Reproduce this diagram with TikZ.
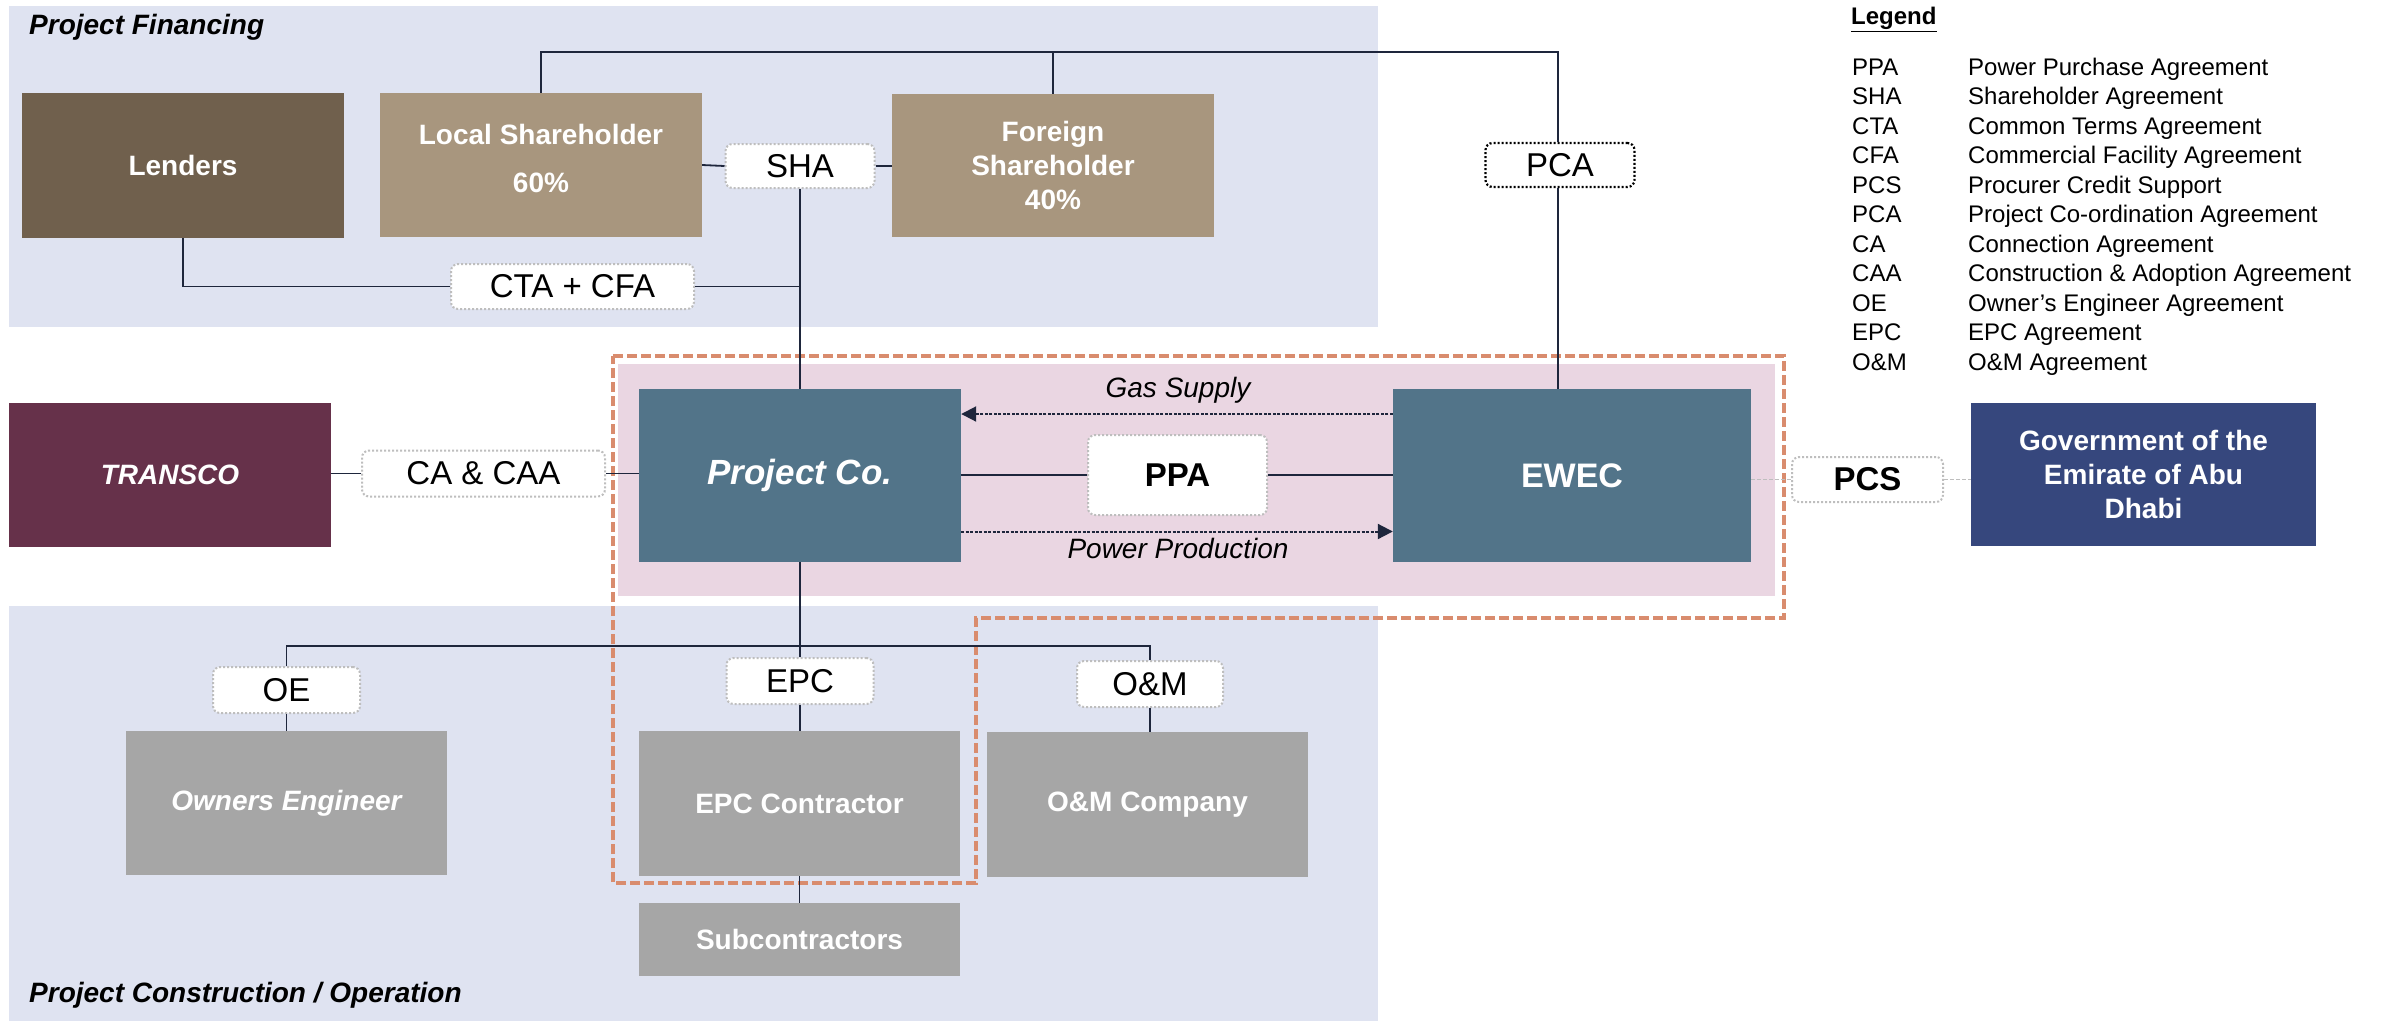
\documentclass[tikz,border=0pt]{standalone}
\usepackage{fontspec}
\setmainfont{Liberation Sans}
\usetikzlibrary{arrows.meta}
\newcommand\setfs[2]{\fontsize{#1}{#2}\selectfont}
\definecolor{bandc}{RGB}{223,227,241}
\definecolor{pinkc}{RGB}{234,214,226}
\definecolor{lendc}{RGB}{112,96,77}
\definecolor{tanc}{RGB}{168,150,126}
\definecolor{tealc}{RGB}{82,116,137}
\definecolor{transc}{RGB}{102,49,74}
\definecolor{govc}{RGB}{54,71,125}
\definecolor{grayc}{RGB}{166,166,166}
\definecolor{orangec}{RGB}{217,140,110}
\definecolor{linec}{RGB}{30,38,60}
\definecolor{dotc}{RGB}{190,190,190}
\begin{document}
\begin{tikzpicture}[x=1pt,y=-1pt,
  box/.style={rectangle, inner sep=0pt, text=white, align=center, font=\bfseries\setfs{28}{34}},
  lbl/.style={rectangle, rounded corners=7pt, fill=white, draw=dotc, line width=2pt, dash pattern=on 2pt off 2pt, inner sep=0pt, font=\setfs{33}{38}, text=black},
  conn/.style={draw=linec, line width=1.8pt},
  soft/.style={draw=dotc, line width=1.8pt, dash pattern=on 4pt off 2pt},
  flow/.style={draw=linec, line width=2pt, dash pattern=on 3pt off 1.5pt, -{Triangle[length=15pt,width=15pt]}},
  legtext/.style={anchor=base west, inner sep=0pt, font=\setfs{24}{29}},
  sect/.style={anchor=base west, inner sep=0pt, font=\bfseries\itshape\setfs{28}{34}}
]
\useasboundingbox (0,0) rectangle (2382,1021);
% bands
\fill[bandc] (9,6) rectangle (1378,327);
\fill[bandc] (9,606) rectangle (1378,1021);
\fill[pinkc] (618,364) rectangle (1775,596);
\draw[orangec, line width=3.5pt, dash pattern=on 10pt off 4pt] (613,356) -- (1784,356) -- (1784,618) -- (976,618) -- (976,883) -- (613,883) -- cycle;

% section titles
\node[sect] (tfin) at (29,34.5) {Project Financing};
\node[sect] (tcon) at (29,1002) {Project Construction / Operation};

% boxes
\node[box, fill=lendc, minimum width=322pt, minimum height=145pt] (lenders) at (183,165.5) {Lenders};
\node[box, fill=tanc, minimum width=322pt, minimum height=144pt] (local) at (541,165) {};
\node[box] (localtxt) at (541,158.5) {Local Shareholder\\[14pt]60\%};
\node[box, fill=tanc, minimum width=322pt, minimum height=143pt] (foreign) at (1053,165.5) {Foreign\\Shareholder\\40\%};
\node[box, fill=transc, minimum width=322pt, minimum height=144pt, font=\bfseries\itshape\setfs{28}{34}] (transco) at (170,475) {TRANSCO};
\node[box, fill=tealc, minimum width=322pt, minimum height=173pt, font=\bfseries\itshape\setfs{35}{40}] (projco) at (800,475.5) {Project Co.};
\node[box, fill=tealc, minimum width=358pt, minimum height=173pt, font=\bfseries\setfs{34}{40}] (ewec) at (1572,475.5) {EWEC};
\node[box, fill=govc, minimum width=345pt, minimum height=143pt] (gov) at (2143.5,474.5) {Government of the\\Emirate of Abu\\Dhabi};
\node[box, fill=grayc, minimum width=321pt, minimum height=144pt, font=\bfseries\itshape\setfs{28}{34}] (oebox) at (286.5,803) {Owners Engineer};
\node[box, fill=grayc, minimum width=321pt, minimum height=145pt] (epcbox) at (799.5,803.5) {EPC Contractor};
\node[box, fill=grayc, minimum width=321pt, minimum height=145pt] (ombox) at (1147.5,804.5) {O\&M Company};
\node[box, fill=grayc, minimum width=321pt, minimum height=73pt] (sub) at (799.5,939.5) {Subcontractors};

% labels
\node[lbl, minimum width=149pt, minimum height=44pt] (sha) at (800,166) {SHA};
\node[lbl, minimum width=243pt, minimum height=45pt] (cta) at (572.5,286.5) {CTA + CFA};
\node[lbl, draw=black, line width=2.2pt, dash pattern=on 2pt off 2pt, minimum width=149pt, minimum height=44pt] (pca) at (1560,165) {PCA};
\node[lbl, minimum width=243pt, minimum height=46pt] (caa) at (483.5,473.5) {CA \& CAA};
\node[lbl, minimum width=179pt, minimum height=80pt, font=\bfseries\setfs{33}{38}] (ppa) at (1177.5,475) {PPA};
\node[lbl, minimum width=151pt, minimum height=45pt, font=\bfseries\setfs{33}{38}] (pcs) at (1867.5,479.5) {PCS};
\node[lbl, minimum width=147pt, minimum height=46pt] (oe) at (286.5,690) {OE};
\node[lbl, minimum width=147pt, minimum height=46pt] (epc) at (800,681) {EPC};
\node[lbl, minimum width=146pt, minimum height=46pt] (om) at (1150,684) {O\&M};

% flow texts
\node[anchor=base, inner sep=0pt, font=\itshape\setfs{28}{34}] (gas) at (1178,397) {Gas Supply};
\node[anchor=base, inner sep=0pt, font=\itshape\setfs{28}{34}] (power) at (1178,558) {Power Production};

% coordinates
\coordinate (topr) at (1558,52);
\coordinate (bus) at (800,646);

% connectors
\draw[conn] (local.north) |- (topr) -- (topr |- pca.north);
\draw[conn] (foreign.north) -- (foreign.north |- topr);
\draw[conn] (topr |- pca.south) -- (topr |- ewec.north);
\draw[conn] (local.east) -- (sha.west);
\draw[conn] (sha.east) -- (sha.east -| foreign.west);
\draw[conn] (sha.south) -- (sha.south |- projco.north);
\draw[conn] (lenders.south) |- (cta.west);
\draw[conn] (cta.east) -- (cta.east -| sha.south);
\draw[conn] (transco.east |- caa.west) -- (caa.west);
\draw[conn] (caa.east) -- (caa.east -| projco.west);
\draw[conn] (projco.east |- ppa.west) -- (ppa.west);
\draw[conn] (ppa.east) -- (ppa.east -| ewec.west);
\draw[soft] (ewec.east |- pcs.west) -- (pcs.west);
\draw[soft] (pcs.east) -- (pcs.east -| gov.west);
\draw[flow] ([yshift=61.5pt]ewec.west) -- ([yshift=61.5pt]projco.east);
\draw[flow] ([yshift=-56pt]projco.east) -- ([yshift=-56pt]ewec.west);
\draw[conn] (projco.south) -- (epc.north);
\draw[conn] (oe.north) |- (bus) -| (om.north);
\draw[conn] (oe.south) -- (oe.south |- oebox.north);
\draw[conn] (epc.south) -- (epc.south |- epcbox.north);
\draw[conn] (om.south) -- (om.south |- ombox.north);
\draw[conn] (epcbox.south) -- (sub.north);

% legend
\node[anchor=base west, inner sep=0pt, font=\bfseries\setfs{24}{29}] (legtitle) at (1851,24.5) {\underline{Legend}};
\foreach \ab/\desc [count=\i] in {PPA/Power Purchase Agreement, SHA/Shareholder Agreement, CTA/Common Terms Agreement, CFA/Commercial Facility Agreement, PCS/Procurer Credit Support, PCA/Project Co-ordination Agreement, CA/Connection Agreement, CAA/Construction \& Adoption Agreement, OE/Owner’s Engineer Agreement, EPC/EPC Agreement, O\&M/O\&M Agreement}{
  \node[legtext] (lega\i) at (1852,{75+29.5*(\i-1)}) {\ab};
  \node[legtext] (legb\i) at (1968,{75+29.5*(\i-1)}) {\desc};
}
\end{tikzpicture}
\end{document}
